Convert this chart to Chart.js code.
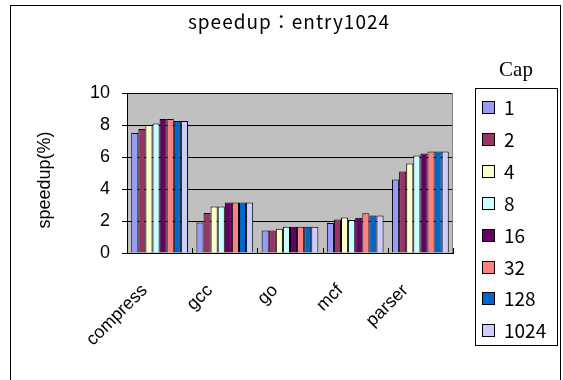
<!DOCTYPE html>
<html>
<head>
<meta charset="utf-8">
<script src="https://cdn.jsdelivr.net/npm/chart.js@4"></script>
<style>
  html, body { margin: 0; padding: 0; background: #fff; }
  #wrap { width: 563px; height: 380px; }
</style>
</head>
<body>
<div id="wrap"><canvas id="c" width="563" height="380"></canvas></div>
<script>
// Benchmarks on the category axis
const categories = ['compress', 'gcc', 'go', 'mcf', 'parser'];
// Cap sizes (one series each)
const capLabels = ['1', '2', '4', '8', '16', '32', '128', '1024'];
// Speedup (%) per benchmark, one array per cap size
const cap1    = [7.5,  1.9,  1.4,  1.87, 4.6];
const cap2    = [7.75, 2.5,  1.4,  2.09, 5.1];
const cap4    = [8.0,  2.9,  1.52, 2.22, 5.6];
const cap8    = [8.1,  2.9,  1.64, 2.07, 6.1];
const cap16   = [8.38, 3.15, 1.64, 2.2,  6.22];
const cap32   = [8.38, 3.15, 1.64, 2.49, 6.35];
const cap128  = [8.25, 3.15, 1.64, 2.34, 6.35];
const cap1024 = [8.25, 3.15, 1.64, 2.34, 6.35];
const capValues = [cap1, cap2, cap4, cap8, cap16, cap32, cap128, cap1024];
// Value axis tick labels
const yTicks = [0, 2, 4, 6, 8, 10];

const capColors = ['#9999FF', '#993366', '#FFFFCC', '#CCFFFF', '#660066', '#FF8080', '#0066CC', '#CCCCFF'];
const chartTitle = 'speedup：entry1024';
const yTitle = 'speedup(%)';
const legendTitle = 'Cap';

const SANS = '"Liberation Sans", Arial, sans-serif';
const JP = '"Noto Sans CJK JP", sans-serif';

// Gray plot background, frame, titles, inner category ticks and the boxed legend
const decorations = {
  id: 'decorations',
  beforeDraw(chart) {
    const { ctx, chartArea: a } = chart;
    ctx.save();
    ctx.fillStyle = '#fff';
    ctx.fillRect(0, 0, chart.width, chart.height);
    ctx.fillStyle = '#C0C0C0';
    ctx.fillRect(a.left, a.top, a.right - a.left, a.bottom - a.top);
    ctx.restore();
  },
  afterDatasetsDraw(chart) {
    const { ctx, chartArea: a } = chart;
    const xs = chart.scales.x;
    ctx.save();
    ctx.lineWidth = 1;
    // plot outline on the right
    ctx.strokeStyle = '#808080';
    ctx.beginPath();
    ctx.moveTo(Math.round(a.right) - 0.5, a.top);
    ctx.lineTo(Math.round(a.right) - 0.5, a.bottom);
    ctx.stroke();
    // category separators pointing into the plot
    ctx.strokeStyle = '#000';
    ctx.beginPath();
    for (let i = 0; i <= categories.length; i++) {
      const x = Math.round(xs.getPixelForValue(i - 0.5)) + 0.5;
      ctx.moveTo(x, a.bottom);
      ctx.lineTo(x, a.bottom - 5);
    }
    ctx.stroke();
    ctx.restore();
  },
  afterDraw(chart) {
    const { ctx, chartArea: a } = chart;
    ctx.save();
    // outer frame
    ctx.strokeStyle = '#000';
    ctx.lineWidth = 1;
    ctx.strokeRect(10.5, 5.5, 550, 400);
    ctx.fillStyle = '#000';
    // chart title
    ctx.font = '19px ' + JP;
    ctx.textAlign = 'center';
    ctx.textBaseline = 'alphabetic';
    ctx.letterSpacing = '1px';
    ctx.fillText(chartTitle, 289, 29);
    ctx.letterSpacing = '0px';
    // value axis title
    ctx.save();
    ctx.translate(45, (a.top + a.bottom) / 2 + 7);
    ctx.rotate(-Math.PI / 2);
    ctx.font = '18px ' + SANS;
    ctx.textBaseline = 'middle';
    ctx.fillText(yTitle, 0, 0);
    ctx.restore();
    // legend title above the box
    ctx.font = '21px "Liberation Serif", serif';
    ctx.textBaseline = 'middle';
    ctx.fillText(legendTitle, 516, 70);
    // legend box
    ctx.strokeRect(475.5, 88.5, 82, 257);
    ctx.font = '19px ' + JP;
    ctx.textAlign = 'left';
    chart.data.datasets.forEach((ds, i) => {
      const cy = Math.round(107 + i * 31.9);
      ctx.fillStyle = ds.backgroundColor;
      ctx.fillRect(482, cy - 6, 13, 13);
      ctx.strokeStyle = '#000';
      ctx.strokeRect(482.5, cy - 5.5, 12, 12);
      ctx.fillStyle = '#000';
      ctx.fillText(ds.label, 504, cy + 1);
    });
    ctx.restore();
  }
};

new Chart(document.getElementById('c'), {
  type: 'bar',
  data: {
    labels: categories,
    datasets: capLabels.map((lab, i) => ({
      label: lab,
      data: capValues[i],
      backgroundColor: capColors[i],
      borderColor: '#000',
      borderWidth: 1,
      categoryPercentage: 0.87,
      barPercentage: 1.0
    }))
  },
  options: {
    responsive: false,
    animation: false,
    devicePixelRatio: 1,
    layout: { padding: { left: 0, right: 110, top: 93, bottom: 0 } },
    plugins: {
      legend: { display: false },
      title: { display: false },
      tooltip: { enabled: false }
    },
    scales: {
      x: {
        grid: { display: true, drawOnChartArea: false, drawTicks: false },
        border: { display: true, color: '#000', width: 1 },
        ticks: {
          color: '#000',
          font: { family: SANS, size: 18 },
          maxRotation: 45,
          minRotation: 45,
          labelOffset: -15,
          padding: 27
        },
        afterFit(scale) { scale.height = 127; }
      },
      y: {
        min: 0,
        max: 10,
        afterBuildTicks(scale) { scale.ticks = yTicks.map(v => ({ value: v })); },
        grid: { color: '#000', lineWidth: 1, tickLength: 5, drawTicks: true },
        border: { display: true, color: '#000', width: 1 },
        ticks: {
          color: '#000',
          font: { family: SANS, size: 18 },
          padding: 12
        },
        afterFit(scale) { scale.width = 127; }
      }
    }
  },
  plugins: [decorations]
});
</script>
</body>
</html>
